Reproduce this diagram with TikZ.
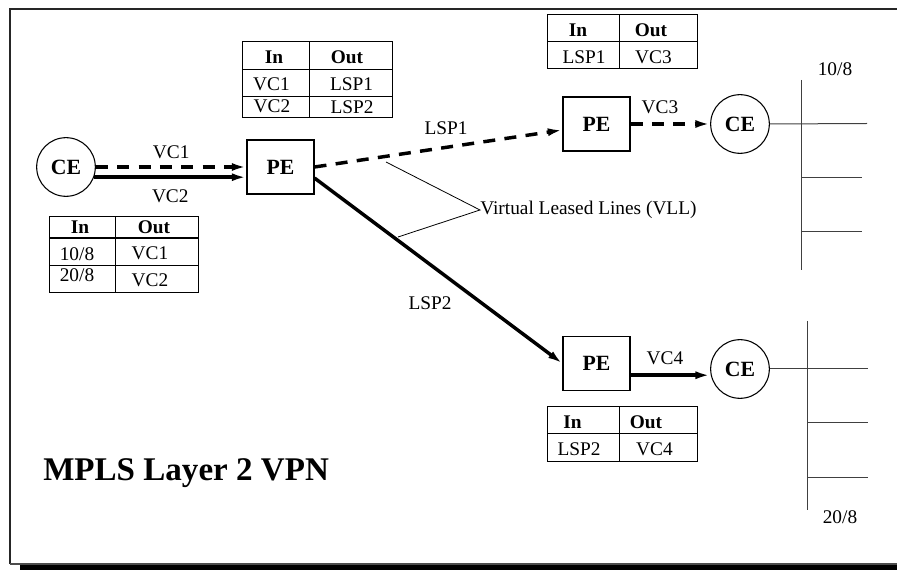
\documentclass[tikz,border=0pt]{standalone}
\usepackage{fontspec}
\setmainfont{Liberation Serif}
\usetikzlibrary{arrows.meta}

\tikzset{
  router/.style={draw, line width=0.8pt, minimum width=50.25pt, minimum height=40.5pt, inner sep=0pt, font=\fontsize{16.3}{19}\selectfont\bfseries},
  site/.style={circle, draw, line width=0.8pt, minimum size=44pt, inner sep=0pt, font=\fontsize{16.3}{19}\selectfont\bfseries},
  lbl/.style={inner sep=0pt, font=\fontsize{14.5}{17}\selectfont},
  hdr/.style={inner sep=0pt, font=\fontsize{14.5}{17}\selectfont\bfseries},
  vc/.style={line width=2.6pt, -{Latex[length=11pt, width=6pt]}},
  vcdash/.style={vc, dash pattern=on 9pt off 7pt},
  wire/.style={line width=0.75pt, black!75},
  tbl/.style={line width=0.75pt},
}

\begin{document}
\begin{tikzpicture}[x=0.75pt, y=-0.75pt]
\useasboundingbox (0,0) rectangle (897,570);

% Frame with shadow
\draw[line width=1.5pt, black!85] (10,564) -- (10,9) -- (897,9);
\draw[line width=1pt, black!70] (10,564) -- (897,564);
\fill (20,565) rectangle (897,570);

% Edge routers and customer sites
\node[site] (ce1) at (66,167) {CE};
\node[router] (pe1) at (280.5,167) {PE};
\node[router] (pe2) at (596.5,124) {PE};
\node[site] (ce2) at (740,124) {CE};
\node[router] (pe3) at (596.5,363.5) {PE};
\node[site] (ce3) at (740,369) {CE};

% Virtual circuits
\draw[vcdash] (ce1.east) -- node[lbl, above=5pt] (vc1) {VC1} (pe1.west);
\draw[vc] (ce1.-20) -- node[lbl, below=8pt] (vc2) {VC2} (ce1.-20 -| pe1.west);
\draw[vcdash] (pe2.east) -- (ce2.west);
\node[lbl] (vc3) at (660,107) {VC3};
\draw[vc] (pe3.-19) -- (pe3.-19 -| ce3.west);
\node[lbl] (vc4) at (665,358) {VC4};

% Label switched paths
\draw[vcdash] (pe1.east) -- (pe2.190);
\node[lbl] (lsp1) at (446,128) {LSP1};
\draw[vc] (pe1.-18) -- (pe3.west);
\node[lbl] (lsp2) at (430,303) {LSP2};

% VLL callout
\coordinate (vll) at (480,210);
\coordinate (v1) at (386,162);
\coordinate (v2) at (398,237);
\draw[line width=0.6pt] (v1) -- (vll) -- (v2);
\node[lbl, anchor=west] (vlltxt) at (vll) {Virtual Leased Lines (VLL)};

% Site 10/8
\draw[wire] (ce2.east) -- (867,123.5);
\draw[wire] (801,80) -- (801,270);
\draw[wire] (801,178) -- (862,178);
\draw[wire] (801,232) -- (862,232);
\node[lbl] (net1) at (835,69) {10/8};

% Site 20/8
\draw[wire] (ce3.east) -- (868,369);
\draw[wire] (807,321) -- (807,510);
\draw[wire] (807,423) -- (868,423);
\draw[wire] (807,478) -- (868,478);
\node[lbl] (net2) at (840,517) {20/8};

% Table at ingress PE
\draw[tbl] (242,42) rectangle (392,118);
\draw[tbl] (309,42) -- (309,118);
\draw[tbl] (242,70) -- (392,70);
\draw[tbl] (242,97) -- (392,97);
\node[hdr] (t1in) at (274,57) {In};
\node[hdr] (t1out) at (347,57) {Out};
\node[lbl] (t1a) at (271.5,84) {VC1};
\node[lbl] (t1b) at (351.5,84) {LSP1};
\node[lbl] (t1c) at (272,106.5) {VC2};
\node[lbl] (t1d) at (352,107) {LSP2};

% Table at left CE
\draw[tbl] (49,217) rectangle (198,293);
\draw[tbl] (115,217) -- (115,293);
\draw[line width=1.3pt] (49,238) -- (198,238);
\draw[tbl] (49,266) -- (198,266);
\node[hdr] (t2in) at (80,227) {In};
\node[hdr] (t2out) at (154,227) {Out};
\node[lbl] (t2a) at (77,254) {10/8};
\node[lbl] (t2b) at (150,253) {VC1};
\node[lbl] (t2c) at (77,275) {20/8};
\node[lbl] (t2d) at (150,280) {VC2};

% Table at upper egress PE
\draw[tbl] (547,15) rectangle (697,69);
\draw[tbl] (619,15) -- (619,69);
\draw[tbl] (547,42) -- (697,42);
\node[hdr] (t3in) at (578,30) {In};
\node[hdr] (t3out) at (651,30) {Out};
\node[lbl] (t3a) at (584,57) {LSP1};
\node[lbl] (t3b) at (653.5,57) {VC3};

% Table at lower egress PE
\draw[tbl] (547,407) rectangle (697,462);
\draw[tbl] (619,407) -- (619,462);
\draw[tbl] (547,434) -- (697,434);
\node[hdr] (t4in) at (572.5,422.5) {In};
\node[hdr] (t4out) at (646,422.5) {Out};
\node[lbl] (t4a) at (579,449.5) {LSP2};
\node[lbl] (t4b) at (654.5,449.5) {VC4};

% Title
\node[inner sep=0pt, anchor=base west, font=\fontsize{24.8}{28}\selectfont\bfseries] (title) at (43,480) {MPLS Layer 2 VPN};

\end{tikzpicture}
\end{document}
